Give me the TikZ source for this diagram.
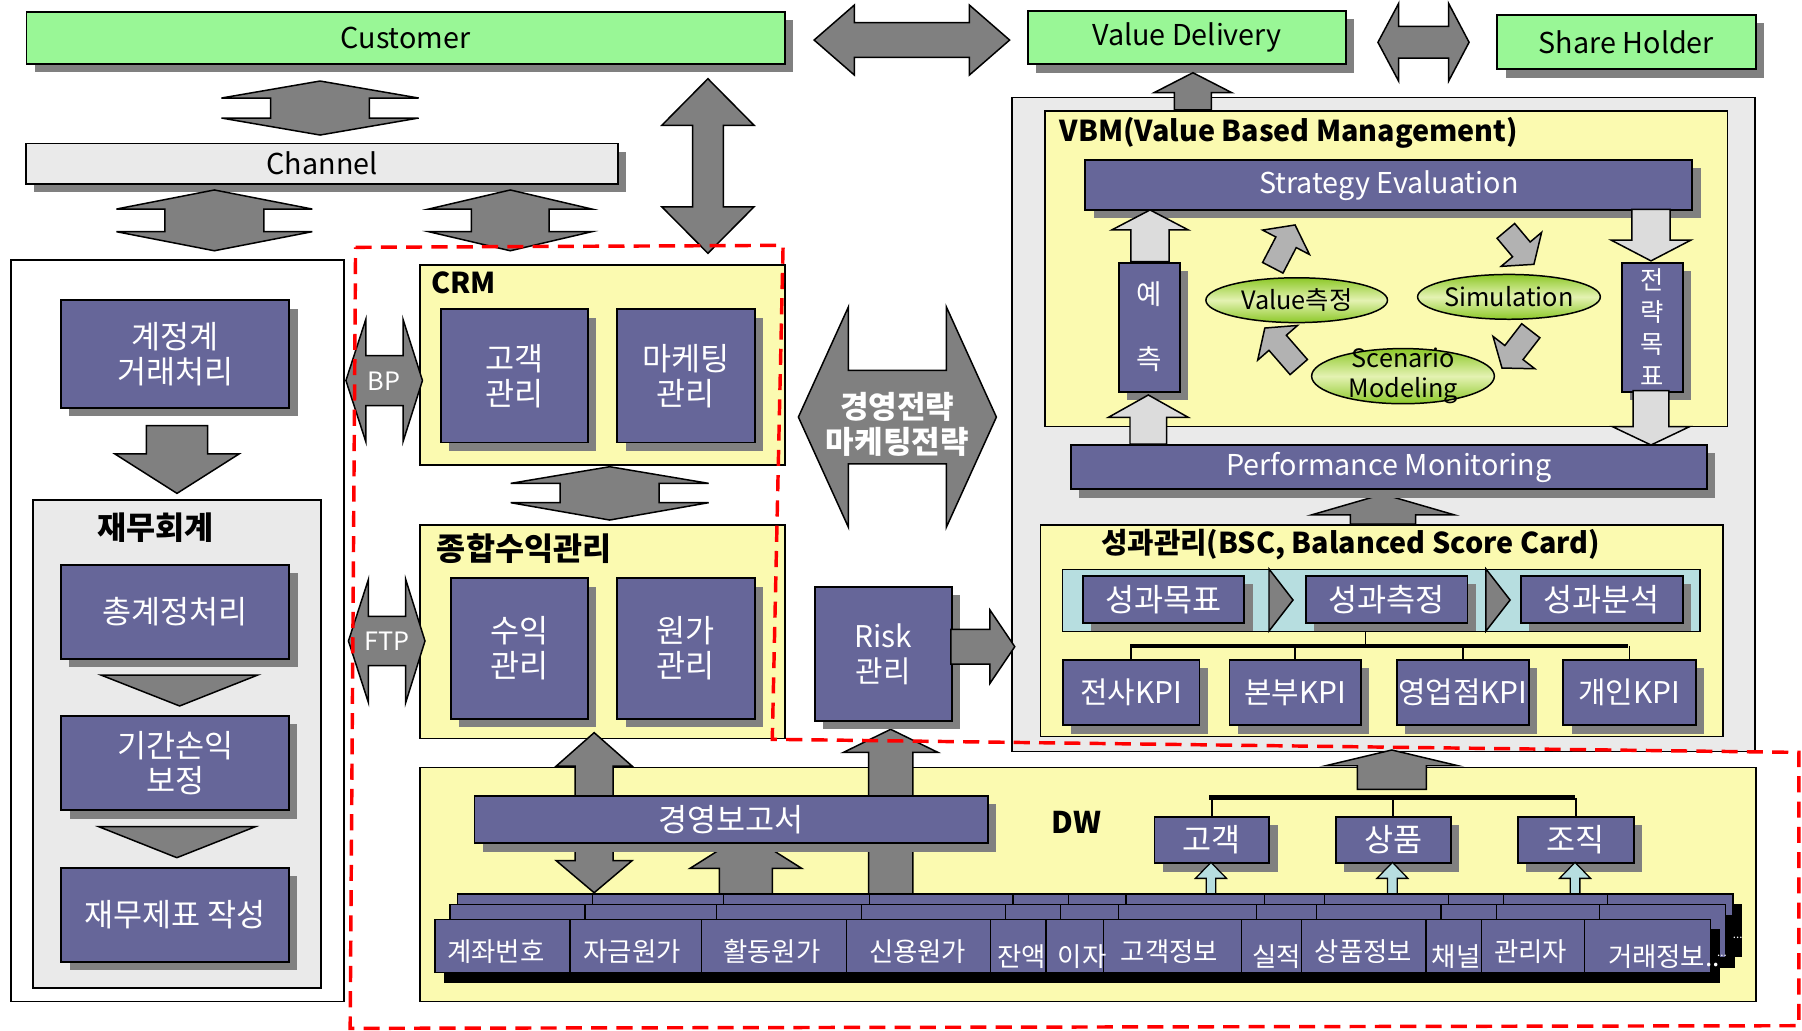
\documentclass[tikz,border=0pt]{standalone}
\usepackage{fontspec}
\setmainfont{Noto Sans CJK KR}
\usetikzlibrary{shapes.geometric}
\definecolor{pur}{RGB}{102,102,153}
\definecolor{grn}{RGB}{153,247,150}
\definecolor{yel}{RGB}{251,250,176}
\definecolor{pnl}{RGB}{234,234,234}
\definecolor{arrg}{RGB}{128,128,128}
\definecolor{lgr}{RGB}{220,220,220}
\definecolor{cga}{RGB}{178,178,178}
\definecolor{lblue}{RGB}{183,222,224}
\definecolor{shg}{RGB}{128,128,128}
\definecolor{eg}{RGB}{140,200,40}
\definecolor{el}{RGB}{228,242,178}
\pgfdeclareverticalshading{ellsh}{100bp}{color(0bp)=(eg); color(25bp)=(eg); color(50bp)=(el); color(75bp)=(eg); color(100bp)=(eg)}
\newcommand\myfz[2]{\fontsize{#1}{#2}\selectfont}
% name x1 y1 x2 y2 style text
\newcommand\mybx[7]{\node[#6, anchor=north west, minimum width={(#4-#2)*1pt}, minimum height={(#5-#3)*1pt}] (#1) at (#2,#3) {#7};}
\newcommand\mysbx[7]{\fill[shg] ({#2+8},{#3+8}) rectangle ({#4+8},{#5+8}); \mybx{#1}{#2}{#3}{#4}{#5}{#6}{#7}}
% style cx halfhead halfshaft ytop headbase1 headbase2 ybottom
\newcommand\udarr[8]{\draw[#1] (#2,#5) -- ({#2+#3},#6) -- ({#2+#4},#6) -- ({#2+#4},#7) -- ({#2+#3},#7) -- (#2,#8) -- ({#2-#3},#7) -- ({#2-#4},#7) -- ({#2-#4},#6) -- ({#2-#3},#6) -- cycle;}
% style cy halfhead halfshaft xleft headbase1 headbase2 xright
\newcommand\lrarr[8]{\draw[#1] (#5,#2) -- (#6,{#2-#3}) -- (#6,{#2-#4}) -- (#7,{#2-#4}) -- (#7,{#2-#3}) -- (#8,#2) -- (#7,{#2+#3}) -- (#7,{#2+#4}) -- (#6,{#2+#4}) -- (#6,{#2+#3}) -- cycle;}
% style cx halfhead halfshaft ytip headbase ytail
\newcommand\varr[7]{\draw[#1] (#2,#5) -- ({#2+#3},#6) -- ({#2+#4},#6) -- ({#2+#4},#7) -- ({#2-#4},#7) -- ({#2-#4},#6) -- ({#2-#3},#6) -- cycle;}
% style cy halfhead halfshaft xtip headbase xtail
\newcommand\harr[7]{\draw[#1] (#5,#2) -- (#6,{#2-#3}) -- (#6,{#2-#4}) -- (#7,{#2-#4}) -- (#7,{#2+#4}) -- (#6,{#2+#4}) -- (#6,{#2+#3}) -- cycle;}
% x y angle length
\newcommand\rarr[4]{\begin{scope}[shift={(#1,#2)}, rotate=#3]\draw[carr] (0,-10) -- ({#4-17},-10) -- ({#4-17},-23) -- (#4,0) -- ({#4-17},23) -- ({#4-17},10) -- (0,10) -- cycle;\end{scope}}
\tikzset{
 pbox/.style={draw=black, line width=1.6pt, fill=pur, text=white, inner sep=0pt, align=center, font=\myfz{27.5}{30.4}},
 latin/.style={font=\myfz{25}{30.4}},
 gbox/.style={draw=black, line width=1.6pt, fill=grn, inner sep=0pt, font=\myfz{25}{30}},
 chbox/.style={gbox, fill=pnl},
 ybox/.style={draw=black, line width=1.4pt, fill=yel, inner sep=0pt},
 panel/.style={draw=black, line width=1.2pt, fill=pnl, inner sep=0pt},
 wpanel/.style={panel, fill=white},
 bandst/.style={draw=black, line width=1.2pt, fill=lblue, inner sep=0pt},
 darr/.style={draw=black, line width=1.3pt, fill=arrg, line join=miter},
 larr/.style={darr, fill=lgr},
 carr/.style={darr, fill=cga},
 lbarr/.style={draw=black, line width=1.1pt, fill=lblue},
 ttl/.style={font=\bfseries\myfz{25}{28}, inner sep=0pt},
 kttl/.style={font=\bfseries\myfz{27.5}{30}, inner sep=0pt},
 ell/.style={ellipse, draw=black, line width=1.3pt, shade, shading=ellsh, inner sep=0pt},
 etext/.style={font=\myfz{22}{26}, align=center, inner sep=0pt},
 cell/.style={text=white, font=\myfz{23}{24}, inner sep=0pt},
 dlayer/.style={draw=black, line width=1.2pt, fill=pur},
 rdash/.style={draw=red, line width=3pt, dash pattern=on 14pt off 8pt},
 tree/.style={draw=black, line width=1.5pt},
 bar/.style={draw=black, line width=4pt},
}
\begin{document}
\begin{tikzpicture}[x=1pt,y=-1pt]
\useasboundingbox (0,0) rectangle (1568,897);
% ---------- top row ----------
\mysbx{cust}{22.2}{9.3}{682}{55}{gbox}{Customer}
\mysbx{vd}{893.5}{8.7}{1170.5}{55.1}{gbox}{Value Delivery}
\mysbx{sh}{1302}{12.2}{1526.8}{59.5}{gbox}{Share Holder}
\lrarr{darr}{34.85}{30.45}{15.1}{708.4}{743.4}{843.5}{878.5}
\lrarr{darr}{36.8}{33.8}{13.75}{1199}{1217}{1260.5}{1278.3}
\udarr{darr}{278.5}{85.8}{43}{70.5}{85.3}{102.7}{117.5}
\mysbx{chan}{22}{124}{537}{159}{chbox}{Channel}
\udarr{darr}{186.5}{85.2}{43.1}{165.3}{181.9}{201.6}{218.2}
\udarr{darr}{444}{71}{33.75}{165.3}{181.9}{201.6}{218.2}
\udarr{darr}{616}{40.1}{13.4}{68.5}{109}{180}{220.4}
% ---------- left panel ----------
\mybx{lp}{8.9}{225.7}{298.8}{870.8}{wpanel}{}
\mysbx{gj}{52.4}{260.5}{250.9}{353.9}{pbox}{계정계\\거래처리}
\varr{darr}{154}{54}{26.65}{429.3}{395}{370.4}
\mybx{jh}{28}{434.5}{278.7}{859.1}{panel}{}
\node[kttl] (jht) at (135.4,458.9) {재무회계};
\mysbx{cg}{52.4}{490.8}{250.9}{572.3}{pbox}{총계정처리}
\draw[darr] (87.9,587.4) -- (224.2,587.4) -- (156.3,614.3) -- cycle;
\mysbx{gs}{52.5}{622.2}{250.8}{704.3}{pbox}{기간손익\\보정}
\draw[darr] (85.9,719.3) -- (222.3,719.3) -- (153.9,746.3) -- cycle;
\mysbx{jp}{52.5}{754.2}{250.8}{836}{pbox}{재무제표 작성}
% ---------- CRM / 종합수익관리 ----------
\mybx{crm}{365}{229.7}{682.4}{403.8}{ybox}{}
\node[ttl, anchor=west] (crmt) at (375,246) {CRM};
\mysbx{gk}{382.7}{268.3}{510.6}{384.3}{pbox}{고객\\관리}
\mysbx{mk}{536.3}{268.3}{655.8}{384.3}{pbox}{마케팅\\관리}
\udarr{darr}{530.5}{86.15}{43.05}{406.1}{420.6}{437.4}{452.5}
\mybx{js}{365}{456}{682.4}{641.9}{ybox}{}
\node[kttl, anchor=west] (jst) at (380,477.1) {종합수익관리};
\mysbx{sy}{391.6}{502.4}{510.6}{624.5}{pbox}{수익\\관리}
\mysbx{wg}{536.3}{502.4}{655.8}{624.5}{pbox}{원가\\관리}
\lrarr{darr}{331.1}{53.2}{21.75}{301}{318.3}{350.7}{367.6}
\node[text=white, font=\myfz{22}{26}, inner sep=0pt] (bp) at (334.3,331.5) {BP};
\lrarr{darr}{557.75}{53.65}{21.35}{303.2}{320.6}{353}{369.8}
\node[text=white, font=\myfz{22}{26}, inner sep=0pt] (ftp) at (336.5,558) {FTP};
% ---------- strategy arrow ----------
\lrarr{darr}{362.9}{96}{40.65}{694.7}{738.3}{823.4}{867}
\node[text=white, font=\bfseries\myfz{27}{30.4}, align=center, inner sep=0pt] (strat) at (780.8,369.1) {경영전략\\마케팅전략};
% ---------- right panel ----------
\mybx{rp}{880}{84}{1526.5}{653.5}{panel}{}
\mybx{vbm}{908.5}{95.7}{1502.4}{370.4}{ybox}{}
\varr{darr}{1038}{33.95}{16.05}{63.3}{80.7}{95.7}
\node[ttl, anchor=west] (vbmt) at (922,116) {VBM(Value Based Management)};
\mysbx{se}{943.5}{138.6}{1471.8}{182.1}{pbox,latin}{Strategy Evaluation}
\varr{larr}{1000.7}{33.35}{16.65}{182.7}{200.1}{227.7}
\varr{larr}{1436.6}{34.75}{16.65}{227}{208.9}{182.1}
\mysbx{yc}{972.6}{227.7}{1026}{340}{pbox,font=\myfz{24}{56.6}}{예\\측}
\mysbx{jr}{1410.6}{227.7}{1463.3}{340}{pbox,font=\myfz{22}{28}}{전\\략\\목\\표}
\varr{larr}{999.2}{34.65}{15.95}{343.7}{363.1}{386.4}
\varr{larr}{1436.6}{33.45}{15.55}{387.2}{371.3}{340}
\node[ell, minimum width=158pt, minimum height=39pt] (e1) at (1128.3,261.2) {};
\node[etext] (e1t) at (e1) {Value측정};
\node[ell, minimum width=159pt, minimum height=39pt] (e2) at (1313,258.3) {};
\node[etext] (e2t) at (e2) {Simulation};
\node[ell, minimum width=159pt, minimum height=48pt] (e3) at (1220.8,327.3) {};
\node[etext] (e3t) at (1221,327) {Scenario\\Modeling};
\rarr{1107.5}{233}{62.5}{42}
\rarr{1310.3}{200.9}{-50}{38}
\rarr{1130.1}{319.4}{131}{45}
\rarr{1332}{287.8}{-127.7}{41}
\varr{darr}{1203.4}{62.4}{28.4}{430}{448.1}{456}
\mysbx{pm}{931}{386.4}{1484.3}{425}{pbox,latin}{Performance Monitoring}
% ---------- BSC ----------
\mybx{bsc}{904.6}{456}{1498.5}{640.2}{ybox}{}
\node[ttl, anchor=west] (bsct) at (958,474.3) {성과관리(BSC, Balanced Score Card)};
\mybx{band}{923.8}{495.1}{1478.6}{549.1}{bandst}{}
\draw[darr] (1104.2,495.1) -- (1125.1,522.1) -- (1104.2,549.1) -- cycle;
\draw[darr] (1293,495.1) -- (1314,522.1) -- (1293,549.1) -- cycle;
\mysbx{sg1}{941.4}{500.3}{1082}{541.3}{pbox}{성과목표}
\mysbx{sg2}{1135.4}{500.3}{1276.1}{541.3}{pbox}{성과측정}
\mysbx{sg3}{1322.6}{500.3}{1463.3}{541.3}{pbox}{성과분석}
\mysbx{k1}{923.8}{573.5}{1042.9}{630.3}{pbox,font=\myfz{26}{30}}{전사KPI}
\mysbx{k2}{1069}{573.5}{1183.6}{630.3}{pbox,font=\myfz{26}{30}}{본부KPI}
\mysbx{k3}{1214.8}{573.5}{1329.4}{630.3}{pbox,font=\myfz{26}{30}}{영업점KPI}
\mysbx{k4}{1359.5}{573.5}{1474.6}{630.3}{pbox,font=\myfz{26}{30}}{개인KPI}
\coordinate (kt) at (1188.1,562.1);
\coordinate (kbl) at (983.4,562.1);
\coordinate (kbr) at (1417,562.1);
\draw[tree] (kt) -- (kt |- band.south);
\draw[bar] (kbl) -- (kbr);
\foreach \k in {k1,k2,k3,k4} \draw[tree] (\k.north) -- (\k.north |- kt);
% ---------- DW ----------
\mybx{dw}{364.6}{667.1}{1527.4}{870.8}{ybox}{}
\node[font=\bfseries\myfz{26}{28}, inner sep=0pt] (dwt) at (936.5,716) {DW};
\udarr{darr}{517}{33}{16.5}{637.5}{666.6}{748.9}{776.8}
\varr{darr}{649}{48.6}{23.15}{725}{755.6}{777.9}
\varr{darr}{775}{41.15}{19.25}{634.6}{654.7}{777.9}
\varr{darr}{1211.1}{57.65}{29.95}{652.6}{666.3}{686.9}
\mysbx{d1}{1003.8}{709.8}{1103.6}{750.4}{pbox}{고객}
\mysbx{d2}{1161.4}{709.8}{1261.8}{750.4}{pbox}{상품}
\mysbx{d3}{1320}{709.8}{1420.9}{750.4}{pbox}{조직}
\coordinate (dbl) at (1052.4,694.1);
\coordinate (dbr) at (1370.5,694.1);
\draw[bar] (dbl) -- (dbr);
\foreach \k in {d1,d2,d3} \draw[tree] (\k.north) -- (\k.north |- dbl);
\varr{lbarr}{1053.7}{13.5}{4.2}{750.4}{764.3}{777.9}
\varr{lbarr}{1211.6}{13.5}{4.2}{750.4}{764.3}{777.9}
\varr{lbarr}{1370.5}{13.5}{4.2}{750.4}{764.3}{777.9}
% data layers (back, middle, front)
\foreach \sx/\sy in {19.5/-22.1, 13/-12.8, 0/0} {
 \begin{scope}[shift={(\sx,\sy)}]
  \fill[black] (386.1,808.7) rectangle (1496.5,855.1);
  \draw[dlayer] (378.6,800) rectangle (1488.5,846.4);
  \foreach \d in {496,610.4,736.8,862,910.1,960.3,1080.6,1132.8,1240.8,1288.9,1379}
   \draw[line width=1pt] (\d,800) -- (\d,846.4);
 \end{scope}
}
\node[text=white, font=\myfz{10}{12}, inner sep=0pt] (dots1) at (1512,816) {...};
\node[text=white, font=\myfz{10}{12}, inner sep=0pt, anchor=west] (dots2) at (1494,832) {...};
\node[cell] (c1) at (431.5,828) {계좌번호};
\node[cell] (c2) at (550,828) {자금원가};
\node[cell] (c3) at (671.5,828) {활동원가};
\node[cell] (c4) at (798.5,828) {신용원가};
\node[cell] (c5) at (889,832) {잔액};
\node[cell] (c6) at (941.6,832) {이자};
\node[cell] (c7) at (1017.6,828) {고객정보};
\node[cell] (c8) at (1111,832) {실적};
\node[cell] (c9) at (1186.5,828) {상품정보};
\node[cell] (c10) at (1267,832) {채널};
\node[cell] (c11) at (1332,828) {관리자};
\node[cell, anchor=west] (c12) at (1399,832) {거래정보..};
\mysbx{gb}{412.1}{691.8}{858.6}{733}{pbox}{경영보고서}
% ---------- Risk ----------
\mysbx{risk}{708.2}{510}{827.4}{626.5}{pbox,font=\myfz{26}{30.4}}{Risk\\관리}
\harr{darr}{562.7}{31.9}{15.1}{883}{861.4}{827.4}
% ---------- red dashed outline ----------
\draw[rdash] (309.4,215.2) -- (681.4,213.5) -- (672,643.3) -- (1565.3,654.7) -- (1565.3,892.5) -- (304.7,894.8) -- cycle;
\end{tikzpicture}
\end{document}
